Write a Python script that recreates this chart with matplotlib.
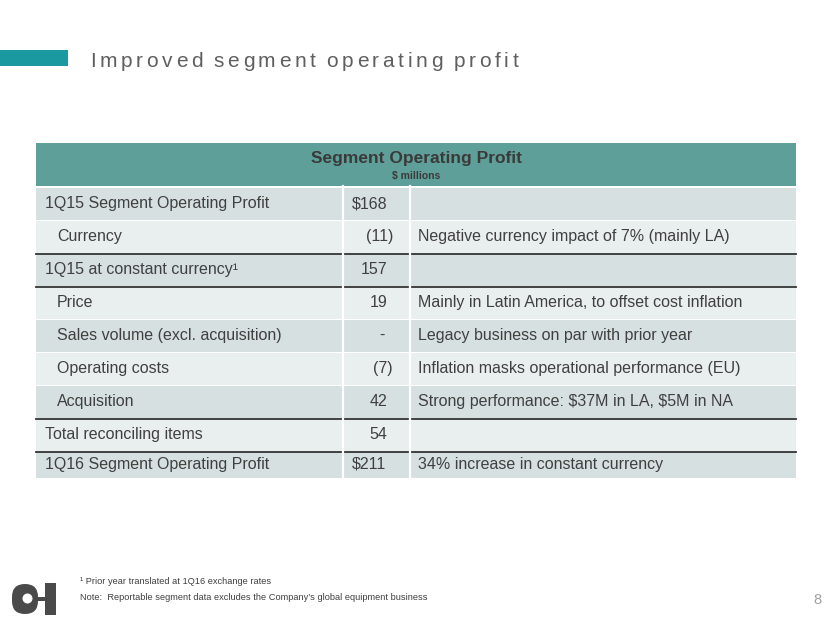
import matplotlib
matplotlib.use("Agg")
import matplotlib.pyplot as plt
from matplotlib.patches import Rectangle, Ellipse, FancyBboxPatch

plt.rcParams["font.family"] = ["Liberation Sans", "DejaVu Sans"]
plt.rcParams["text.parse_math"] = False

# table content
row_labels = [
    "1Q15 Segment Operating Profit",
    "Currency",
    "1Q15 at constant currency\u00b9",
    "Price",
    "Sales volume (excl. acquisition)",
    "Operating costs",
    "Acquisition",
    "Total reconciling items",
    "1Q16 Segment Operating Profit",
]
row_values = ["$168", "(11)", "157", "19", "-", "(7)", "42", "54", "$211"]
row_comments = [
    "",
    "Negative currency impact of 7% (mainly LA)",
    "",
    "Mainly in Latin America, to offset cost inflation",
    "Legacy business on par with prior year",
    "Inflation masks operational performance (EU)",
    "Strong performance: $37M in LA, $5M in NA",
    "",
    "34% increase in constant currency",
]
indented = [False, True, False, True, True, True, True, False, False]
rule_below = [False, True, True, False, False, False, True, True, False]

title = "Improved segment operating profit"
header = "Segment Operating Profit"
subheader = "$ millions"
footnote1 = "\u00b9 Prior year translated at 1Q16 exchange rates"
footnote2 = "Note:  Reportable segment data excludes the Company\u2019s global equipment business"

W, H = 830, 623
fig = plt.figure(figsize=(W / 100, H / 100), dpi=100)
ax = fig.add_axes([0, 0, 1, 1])
ax.set_xlim(0, W)
ax.set_ylim(H, 0)
ax.axis("off")

TEXT = "#404040"
DARK = "#d6e0e0"
LIGHT = "#e9efee"

# title bar + letter-spaced title
ax.add_patch(Rectangle((0, 50), 68, 16, color="#1a9aa0", lw=0))
renderer = fig.canvas.get_renderer()
chars = []
for ch in title:
    t = ax.text(0, 67, ch if ch != " " else "n", fontsize=15, color="#5f5f5f",
                va="baseline", ha="left")
    w = t.get_window_extent(renderer).width
    if ch == " ":
        w *= 0.25
    chars.append((t, w))
natural = sum(w for _, w in chars)
track = (518 - 90 - natural) / (len(chars) - 1)
x = 90
for (t, w), ch in zip(chars, title):
    if ch == " ":
        t.remove()
    else:
        t.set_x(x)
    x += w + track

# table geometry
left, right = 36, 796
col1, col2 = 343, 410
top = 143
head_h = 43
row_h = [33] * 8 + [27]

ax.add_patch(Rectangle((left, top), right - left, head_h, color="#5f9f9a", lw=0))
ax.text((left + right) / 2, top + 16, header, fontsize=12.5, fontweight="bold",
        color="#3a3a3a", ha="center", va="center")
ax.text((left + right) / 2, top + 33, subheader, fontsize=7.5, fontweight="bold",
        color="#3a3a3a", ha="center", va="center")

y = top + head_h + 2
for i, (lab, val, com) in enumerate(zip(row_labels, row_values, row_comments)):
    h = row_h[i]
    ax.add_patch(Rectangle((left, y), right - left, h - 1.5,
                           color=DARK if i % 2 == 0 else LIGHT, lw=0))
    cy = y + h / 2 - 1
    ax.text(57 if indented[i] else 45, cy, lab, fontsize=11.5, color=TEXT,
            va="center", ha="left")
    if val.startswith("$"):
        ax.text(352, cy, val, fontsize=11.5, color=TEXT, va="center", ha="left")
    elif val == "-":
        ax.text(382, cy, val, fontsize=11.5, color=TEXT, va="center", ha="center")
    elif val.startswith("("):
        ax.text(393, cy, val, fontsize=11.5, color=TEXT, va="center", ha="right")
    else:
        ax.text(387, cy, val, fontsize=11.5, color=TEXT, va="center", ha="right")
    if com:
        ax.text(418, cy, com, fontsize=11.5, color=TEXT, va="center", ha="left")
    if rule_below[i]:
        ax.plot([left, right], [y + h - 0.5, y + h - 0.5], color="#333333", lw=1.3)
    y += h

# white column separators
for cx in (col1, col2):
    ax.plot([cx, cx], [top + head_h, y], color="white", lw=1.6)

# footnotes
ax.text(80, 582, footnote1, fontsize=6.7, color="#404040", va="center", ha="left")
ax.text(80, 597, footnote2, fontsize=6.7, color="#404040", va="center", ha="left")
ax.text(817, 600, "8", fontsize=10.5, color="#a0a0a0", va="center", ha="center")

# O-I logo
LOGO = "#4a4a4a"
ax.add_patch(FancyBboxPatch((12, 584), 26, 30, boxstyle="round,pad=0,rounding_size=13",
                            color=LOGO, lw=0))
ax.add_patch(Ellipse((27.5, 598.5), 10, 10, color="white", lw=0))
ax.add_patch(Rectangle((37, 597), 9, 4, color=LOGO, lw=0))
ax.add_patch(Rectangle((45, 583), 11, 32, color=LOGO, lw=0))

fig.savefig("out.png", dpi=100, facecolor="white")
